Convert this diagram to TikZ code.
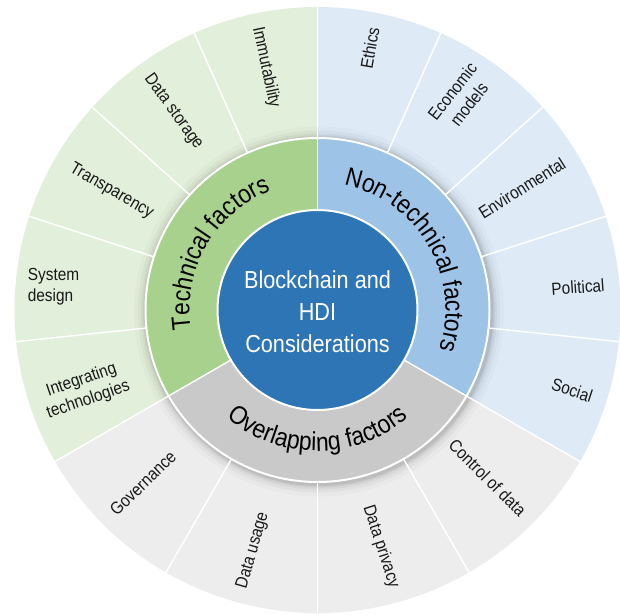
\documentclass[tikz,border=0pt]{standalone}
\usepackage{fontspec}
\setmainfont{Liberation Sans}
\newfontfamily\labfont[FakeStretch=0.88]{Liberation Sans}
\usetikzlibrary{decorations.text}
\definecolor{gOut}{HTML}{E2EFDA}
\definecolor{gMid}{HTML}{A9D18E}
\definecolor{bOut}{HTML}{DEEBF7}
\definecolor{bMid}{HTML}{9DC3E6}
\definecolor{kOut}{HTML}{EDEDED}
\definecolor{kMid}{HTML}{C9C9C9}
\definecolor{core}{HTML}{2E75B6}
\begin{document}
\begin{tikzpicture}[x=1pt,y=1pt,
  lbl/.style={font=\labfont\fontsize{17.5}{21}\selectfont, text=black!90, inner sep=0pt, align=center},
  sepline/.style={draw=white, line width=1.4pt},
  midtxt/.style={decorate, decoration={text along path, text align=center,
      text={|\labfont\fontsize{26}{30}\selectfont|#1}}}
]
\useasboundingbox (-317.5,-304) rectangle (302.5,310);
% outer ring sectors
\fill[gOut] (0,0) -- (90:303) arc[start angle=90, end angle=210, radius=303] -- cycle;
\fill[kOut] (0,0) -- (210:303) arc[start angle=210, end angle=330, radius=303] -- cycle;
\fill[bOut] (0,0) -- (-30:303) arc[start angle=-30, end angle=90, radius=303] -- cycle;
% shadow of middle ring
\foreach \r/\o in {185/0.02,181/0.03,178/0.04,176/0.05,174.5/0.07}
  \fill[black, opacity=\o] (1.5,-1.5) circle[radius=\r];
% separators
\foreach \a in {90,114,138,162,186,210,240,270,300,330,-6,18,42,66}
  \draw[sepline] (\a:160) -- (\a:305);
% middle ring
\fill[gMid] (0,0) -- (90:172) arc[start angle=90, end angle=210, radius=172] -- cycle;
\fill[kMid] (0,0) -- (210:172) arc[start angle=210, end angle=330, radius=172] -- cycle;
\fill[bMid] (0,0) -- (-30:172) arc[start angle=-30, end angle=90, radius=172] -- cycle;
\draw[white, line width=2pt] (0,0) circle[radius=172];
\foreach \a in {90,210,330}
  \draw[sepline] (0,0) -- (\a:172);
% core
\fill[core] (0,0) circle[radius=100];
\draw[white, line width=2pt] (0,0) circle[radius=100];
\node[font=\labfont\fontsize{24.6}{32}\selectfont, text=white, align=center] (centre) at (0,-2)
  {Blockchain and\\HDI\\Considerations};
% middle ring labels
\path[midtxt={Technical factors}] (210:128) arc[start angle=210, end angle=90, radius=128];
\path[midtxt={Non-technical factors}] (90:128) arc[start angle=90, end angle=-30, radius=128];
\path[midtxt={Overlapping factors}] (210:141) arc[start angle=210, end angle=330, radius=141];
% outer labels: technical
\node[lbl, rotate=-78] (immut) at (102:248) {Immutability};
\node[lbl, rotate=-54] (datastor) at (126:245) {Data storage};
\node[lbl, rotate=-30] (transp) at (150:238) {Transparency};
\node[lbl, align=left] (sysdes) at (175:265) {System\\design};
\node[lbl, rotate=19] (integr) at (199:246) {Integrating\\technologies};
% non-technical
\node[lbl, rotate=80] (ethics) at (78.7:267) {Ethics};
\node[lbl, rotate=52] (econ) at (56:256) {Economic\\models};
\node[lbl, rotate=32] (envir) at (30.8:238) {Environmental};
\node[lbl, rotate=4] (polit) at (5:261.5) {Political};
\node[lbl, rotate=-18] (social) at (-17.5:267) {Social};
% overlapping
\node[lbl, rotate=-45] (control) at (-44.6:239) {Control of data};
\node[lbl, rotate=-72] (privacy) at (-75:245) {Data privacy};
\node[lbl, rotate=74] (usage) at (255:249) {Data usage};
\node[lbl, rotate=44] (govern) at (224.8:246) {Governance};
\end{tikzpicture}
\end{document}
